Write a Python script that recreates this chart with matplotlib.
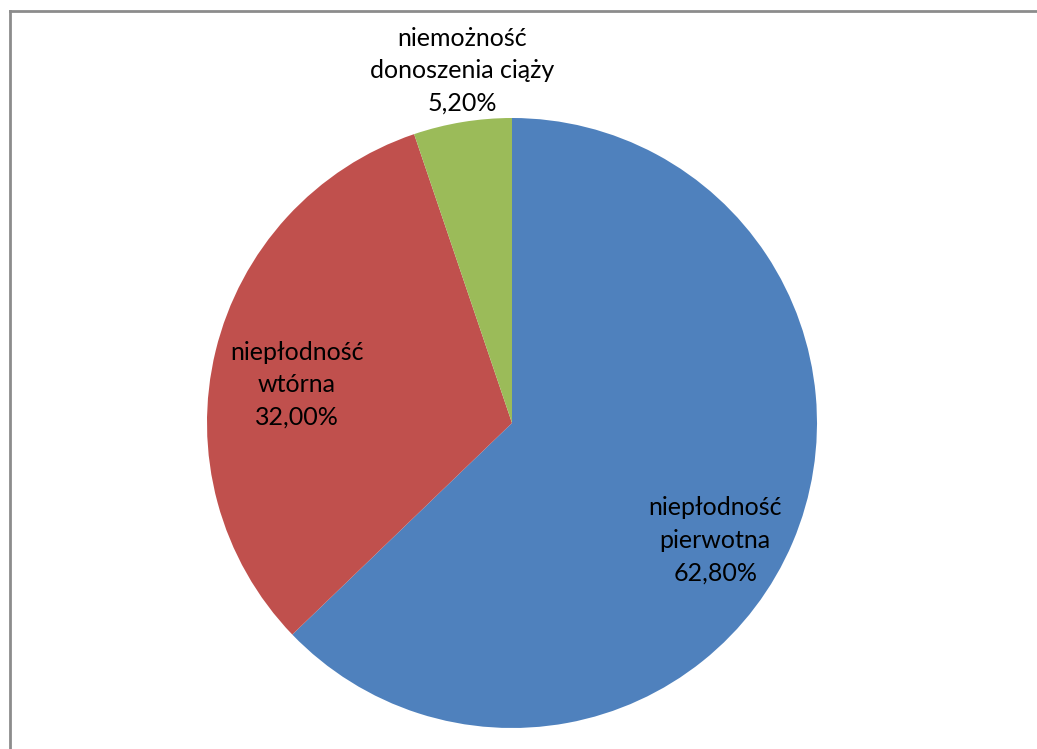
import matplotlib.pyplot as plt
from matplotlib.lines import Line2D

# Dane wykresu
kategorie = ['niepłodność\npierwotna', 'niepłodność\nwtórna', 'niemożność\ndonoszenia ciąży']
wartosci = [62.8, 32.0, 5.2]
kolory = ['#4F81BD', '#C0504D', '#9BBB59']

plt.rcParams['font.family'] = ['Lato', 'DejaVu Sans']

fig = plt.figure(figsize=(10.37, 7.49), dpi=100)

# Ramka wykresu (lewa i górna krawędź)
fig.add_artist(Line2D([10 / 1037, 10 / 1037], [0, 1 - 11 / 749], color='#8c8c8c', lw=2.0))
fig.add_artist(Line2D([10 / 1037, 1], [1 - 11 / 749, 1 - 11 / 749], color='#8c8c8c', lw=2.0))

# Osie pod koło: środek (512, 423), promień 305 px
ax = fig.add_axes([207 / 1037, 21 / 749, 610 / 1037, 610 / 749])
ax.pie(wartosci, colors=kolory, startangle=90, counterclock=False, radius=1)
ax.set_xlim(-1, 1)
ax.set_ylim(-1, 1)
ax.set_aspect('equal')
ax.axis('off')

# Etykiety danych
pozycje = [(0.666, -0.384), (-0.705, 0.125), (-0.164, 1.155)]
for nazwa, wart, (x, y) in zip(kategorie, wartosci, pozycje):
    tekst = nazwa + '\n' + f'{wart:.2f}'.replace('.', ',') + '%'
    ax.text(x, y, tekst, ha='center', va='center', fontsize=18,
            linespacing=1.5, color='#000000', clip_on=False)

fig.savefig('out.png', dpi=100)
